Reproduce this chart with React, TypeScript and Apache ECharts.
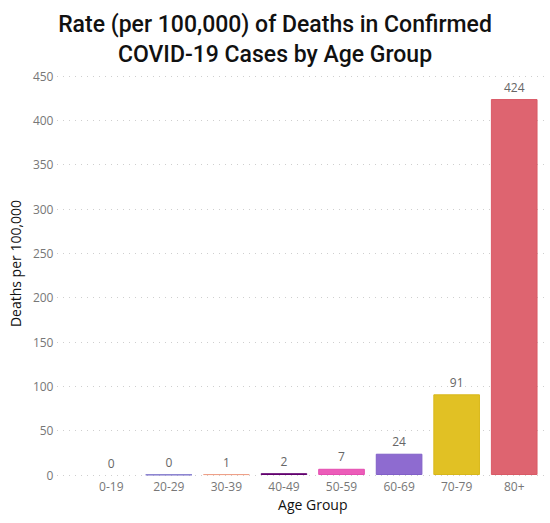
import React, { useEffect, useRef } from "react";
import * as echarts from "echarts";

const categories = ["0-19", "20-29", "30-39", "40-49", "50-59", "60-69", "70-79", "80+"];
const values = [0, 0.4, 1, 2, 7, 24, 91, 424];
const colors = ["#8a84d6", "#8a84d6", "#f2a48c", "#6a0e7a", "#ec5cb9", "#8e6bd0", "#e1c124", "#de6470"];
const borders = ["#8078cc", "#8078cc", "#eea088", "#62006f", "#e44db0", "#8160c8", "#d8b81a", "#da5a66"];

export default function App() {
  const ref = useRef<HTMLDivElement>(null);
  useEffect(() => {
    if (!ref.current) return;
    const chart = echarts.init(ref.current, null, { renderer: "svg" });
    const font = "'Open Sans', 'Noto Sans', sans-serif";
    chart.setOption({
      animation: false,
      title: {
        text: "Rate (per 100,000) of Deaths in Confirmed\nCOVID-19 Cases by Age Group",
        left: "center",
        top: 4,
        textStyle: {
          fontFamily: "Roboto, sans-serif",
          fontWeight: 500,
          fontSize: 23,
          lineHeight: 30,
          color: "#111",
        },
      },
      grid: [
        { left: 78, right: 7, top: 76, bottom: 48, containLabel: false },
        { left: 57, right: 3, top: 76, bottom: 48, containLabel: false },
      ],
      xAxis: [
        {
          type: "category",
          data: categories,
          gridIndex: 0,
          axisLine: { show: false },
          axisTick: { show: false },
          axisLabel: { color: "#777", fontSize: 12, fontFamily: font, margin: 5 },
          name: "Age Group",
          nameLocation: "middle",
          nameGap: 22,
          nameTextStyle: { color: "#111", fontSize: 14, fontFamily: font },
        },
        { type: "value", gridIndex: 1, show: false, min: 0, max: 1 },
      ],
      yAxis: [
        {
          type: "value",
          gridIndex: 0,
          min: 0,
          max: 450,
          interval: 50,
          splitLine: { show: false },
          axisLine: { show: false },
          axisTick: { show: false },
          axisLabel: { color: "#777", fontSize: 12, fontFamily: font, margin: 29 },
          name: "Deaths per 100,000",
          nameLocation: "middle",
          nameGap: 50,
          nameTextStyle: { color: "#111", fontSize: 14, fontFamily: font, padding: [0, 0, 0, 24] },
        },
        {
          type: "value",
          gridIndex: 1,
          min: 0,
          max: 450,
          interval: 50,
          axisLabel: { show: false },
          axisLine: { show: false },
          axisTick: { show: false },
          splitLine: { show: true, lineStyle: { color: "#cfcfcf", type: [1, 5], width: 1 } },
        },
      ],
      series: [
        {
          type: "bar",
          xAxisIndex: 0,
          yAxisIndex: 0,
          barWidth: "81%",
          z: 3,
          data: values.map((v, i) => ({
            value: v,
            itemStyle: {
              color: colors[i],
              borderColor: borders[i],
              borderWidth: v > 0 ? 1 : 0,
            },
          })),
          label: {
            show: true,
            position: "top",
            distance: 6,
            color: "#666",
            fontSize: 12,
            fontFamily: font,
            formatter: (p: any) => String(Math.round(p.value)),
          },
        },
      ],
    });
    return () => chart.dispose();
  }, []);
  return (
    <div
      ref={ref}
      style={{ position: "absolute", left: 0, top: 0, width: 550, height: 523 }}
    />
  );
}
